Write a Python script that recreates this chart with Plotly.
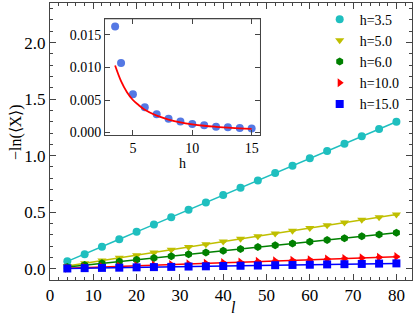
import plotly.graph_objects as go

# ---- data ----
l_vals = [4, 8, 12, 16, 20, 24, 28, 32, 36, 40, 44, 48, 52, 56, 60, 64, 68, 72, 76, 80]
y_h35 = [0.065, 0.128, 0.194, 0.260, 0.326, 0.391, 0.456, 0.521, 0.586, 0.651,
         0.716, 0.781, 0.846, 0.911, 0.976, 1.041, 1.106, 1.171, 1.236, 1.300]
y_h50 = [0.024, 0.048, 0.072, 0.096, 0.120, 0.144, 0.168, 0.192, 0.216, 0.240,
         0.264, 0.288, 0.312, 0.336, 0.360, 0.384, 0.408, 0.432, 0.456, 0.480]
y_h60 = [0.016, 0.032, 0.048, 0.064, 0.080, 0.095, 0.111, 0.127, 0.143, 0.159,
         0.175, 0.191, 0.207, 0.223, 0.239, 0.254, 0.270, 0.286, 0.302, 0.318]
y_h100 = [0.005, 0.011, 0.016, 0.021, 0.026, 0.032, 0.037, 0.042, 0.048, 0.053,
          0.058, 0.064, 0.069, 0.074, 0.079, 0.085, 0.090, 0.095, 0.101, 0.106]
y_h150 = [0.002, 0.005, 0.007, 0.009, 0.012, 0.014, 0.016, 0.019, 0.021, 0.024,
          0.026, 0.028, 0.031, 0.033, 0.035, 0.038, 0.040, 0.042, 0.045, 0.047]
err = [0.006] * 20

series_labels = ["h=3.5", "h=5.0", "h=6.0", "h=10.0", "h=15.0"]
series_values = [y_h35, y_h50, y_h60, y_h100, y_h150]
series_colors = ["#1fbfbf", "#bfbf00", "#008000", "#ff0000", "#0000ff"]
series_symbols = ["circle", "triangle-down", "hexagon", "triangle-right", "square"]

# inset: slope vs h
h_vals = [3.5, 4, 5, 6, 7, 8, 9, 10, 11, 12, 13, 14, 15]
slope_vals = [0.0163, 0.0107, 0.0059, 0.0039, 0.0028, 0.0021, 0.0017,
              0.0013, 0.0011, 0.0009, 0.0008, 0.0007, 0.0006]
fit_h = [3.5, 4, 4.5, 5, 5.5, 6, 7, 8, 9, 10, 11, 12, 13, 14, 15]
fit_vals = [0.0103, 0.0079, 0.0062, 0.0050, 0.0042, 0.0035, 0.0026, 0.0020,
            0.00156, 0.00126, 0.00104, 0.00088, 0.00075, 0.00064, 0.00056]

FONT = "Liberation Serif"
AX = "#444444"

fig = go.Figure()
for lab, vals, col, sym in zip(series_labels, series_values, series_colors, series_symbols):
    fig.add_trace(go.Scatter(
        x=l_vals, y=vals, mode="lines", showlegend=False,
        line=dict(color=col, width=1.5), hoverinfo="skip",
        xaxis="x", yaxis="y",
    ))
for lab, vals, col, sym in zip(series_labels, series_values, series_colors, series_symbols):
    fig.add_trace(go.Scatter(
        x=l_vals, y=vals, mode="markers", name=lab,
        marker=dict(color=col, symbol=sym, size=8, line=dict(width=0)),
        error_y=dict(type="data", array=err, color=col, thickness=1, width=3),
        xaxis="x", yaxis="y",
    ))

fig.add_trace(go.Scatter(
    x=h_vals, y=slope_vals, mode="markers", showlegend=False,
    marker=dict(color="#4169e1", size=8, opacity=0.9),
    xaxis="x2", yaxis="y2",
))
fig.add_trace(go.Scatter(
    x=fit_h, y=fit_vals, mode="lines", showlegend=False, line_shape="spline",
    line=dict(color="#ff0000", width=1.8),
    xaxis="x2", yaxis="y2",
))

common = dict(showline=True, linecolor=AX, linewidth=1, mirror="ticks",
              ticks="inside", tickcolor=AX, showgrid=False, zeroline=False,
              automargin=False)
main_tf = dict(family=FONT, size=17, color="#000")
inset_tf = dict(family=FONT, size=14, color="#000")

fig.update_layout(
    width=416, height=318,
    margin=dict(l=50, r=4, t=3, b=38),
    paper_bgcolor="white", plot_bgcolor="white",
    font=dict(family=FONT, color="#000"),
    xaxis=dict(range=[0, 83.6], dtick=10, ticklen=6, tickfont=main_tf,
               minor=dict(dtick=2, ticks="inside", ticklen=3, tickcolor=AX),
               title=None, **common),
    yaxis=dict(range=[-0.1, 2.35], dtick=0.5, tickformat=".1f", ticklen=6, tickfont=main_tf,
               minor=dict(dtick=0.1, ticks="inside", ticklen=3, tickcolor=AX),
               title=None, **common),
    xaxis2=dict(domain=[0.152, 0.58], anchor="y2", range=[2.65, 15.7],
                tickvals=[5, 10, 15], ticklen=5, tickfont=inset_tf,
                title=dict(text="h", font=dict(family=FONT, size=14), standoff=0),
                **common),
    yaxis2=dict(domain=[0.523, 0.941], anchor="x2", range=[-0.0004, 0.0174],
                tickvals=[0, 0.005, 0.010, 0.015], tickformat=".3f", ticklen=5,
                tickfont=inset_tf, **common),
    legend=dict(x=0.745, y=0.998, xanchor="left", yanchor="top",
                bgcolor="rgba(0,0,0,0)", font=dict(family=FONT, size=14),
                tracegroupgap=0, itemwidth=30),
)

fig.add_annotation(text="<i>l</i>", xref="paper", yref="paper", x=0.508, y=-0.137,
                   xanchor="center", yanchor="bottom", showarrow=False,
                   font=dict(family=FONT, size=16, color="#000"))
fig.add_annotation(text="\u2212ln(\u27e8X\u27e9)", xref="paper", yref="paper",
                   x=-0.094, y=0.534, xanchor="center", yanchor="middle",
                   textangle=-90, showarrow=False,
                   font=dict(family=FONT, size=16, color="#000"))

fig.add_shape(type="rect", xref="x2 domain", yref="y2 domain", x0=0, x1=1, y0=0, y1=1,
              line=dict(color=AX, width=1), fillcolor="white", layer="below")

fig.write_html("out.html", config={"displayModeBar": False},
               post_script="document.body.style.margin='0';")
